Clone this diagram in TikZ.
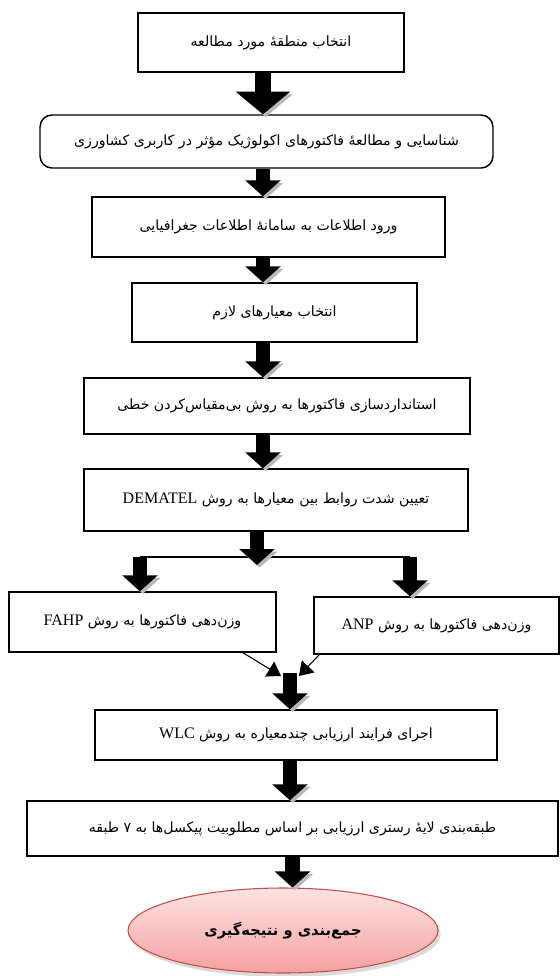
\documentclass[tikz,border=0pt]{standalone}
\usepackage{fontspec}
\usepackage{tikz}
\usetikzlibrary{arrows.meta,shapes.geometric,shadows}
\TeXXeTstate=1
\newfontfamily\fafont[Script=Arabic]{DejaVu Sans}
\newfontfamily\latfont{Liberation Serif}
\definecolor{shadowgray}{HTML}{B8B8B8}
\definecolor{ellTop}{HTML}{FDE3E3}
\definecolor{ellBot}{HTML}{F5A0A0}
\definecolor{ellEdge}{HTML}{C0504D}
\newcommand{\fatxt}[1]{\beginR #1\endR}
\newcommand{\lat}[1]{\beginL{\latfont\fontsize{12}{14}\selectfont #1}\endL}
\tikzset{
  stepbox/.style={draw=black, line width=1.1pt, inner sep=0pt, font=\fafont\fontsize{10.6}{13}\selectfont},
  flow/.style={line width=11pt, -{Triangle[width=26pt,length=12pt]},
    preaction={draw=shadowgray, transform canvas={shift={(2pt,-2pt)}}}},
  bigflow/.style={flow, line width=12.5pt, -{Triangle[width=40pt,length=17pt]}},
  link/.style={draw=black, line width=0.8pt},
  linktip/.style={link, -{Triangle[width=13pt,length=10pt]}},
}
\begin{document}
\begin{tikzpicture}[x=0.75pt,y=-0.75pt]
  \fill[white] (0,0) rectangle (560,976);
  \useasboundingbox (0,0) rectangle (560,976);
  % steps
  \node[stepbox, minimum width=199.5pt, minimum height=44.25pt] (b1) at (271,42.5)
    {\fatxt{انتخاب منطقهٔ مورد مطالعه}};
  \node[stepbox, rounded corners=9pt, minimum width=339.75pt, minimum height=39.75pt] (b2) at (266.5,141.5)
    {\fatxt{شناسایی و مطالعهٔ فاکتورهای اکولوژیک مؤثر در کاربری کشاورزی}};
  \node[stepbox, minimum width=264.75pt, minimum height=45pt] (b3) at (268.5,227)
    {\fatxt{ورود اطلاعات به سامانهٔ اطلاعات جغرافیایی}};
  \node[stepbox, minimum width=213.75pt, minimum height=44.25pt] (b4) at (274.5,312.5)
    {\fatxt{انتخاب معیارهای لازم}};
  \node[stepbox, minimum width=289.5pt, minimum height=42pt] (b5) at (277,406)
    {\fatxt{استانداردسازی فاکتورها به روش بی‌مقیاس‌کردن خطی}};
  \node[stepbox, minimum width=288pt, minimum height=46.5pt] (b6) at (276,500)
    {\fatxt{تعیین شدت روابط بین معیارها به روش \lat{DEMATEL}}};
  \node[stepbox, minimum width=200.25pt, minimum height=45pt] (fahp) at (142.5,622)
    {\fatxt{وزن‌دهی فاکتورها به روش \lat{FAHP}}};
  \node[stepbox, minimum width=183.75pt, minimum height=42.75pt] (anp) at (436.5,625.5)
    {\fatxt{وزن‌دهی فاکتورها به روش \lat{ANP}}};
  \node[stepbox, minimum width=301.5pt, minimum height=37.5pt] (wlc) at (296,735)
    {\fatxt{اجرای فرایند ارزیابی چندمعیاره به روش \lat{WLC}}};
  \node[stepbox, minimum width=398pt, minimum height=41.25pt] (b9) at (292.5,828.5)
    {\fatxt{طبقه‌بندی لایهٔ رستری ارزیابی بر اساس مطلوبیت پیکسل‌ها به ۷ طبقه}};
  \node[ellipse, draw=ellEdge, line width=0.8pt, top color=ellTop, bottom color=ellBot,
    drop shadow={shadow xshift=2pt, shadow yshift=-3pt, fill=shadowgray},
    minimum width=232.5pt, minimum height=63.75pt, inner sep=0pt,
    font=\fafont\bfseries\fontsize{11}{13}\selectfont] (ell) at (283,930.5)
    {\fatxt{جمع‌بندی و نتیجه‌گیری}};
  % connectors
  \coordinate (spine) at (263,0);
  \coordinate (split) at (257,565);
  \coordinate (bl) at (140,557);
  \coordinate (br) at (410,557);
  \coordinate (merge) at (290,673);
  \coordinate (mergeL) at (281,676);
  \coordinate (mergeR) at (299,676);
  \draw[bigflow] (b1.south -| spine) -- (b2.north -| spine);
  \foreach \A/\B in {b2/b3,b3/b4,b4/b5,b5/b6}
    \draw[flow] (\A.south -| spine) -- (\B.north -| spine);
  \draw[link] (bl) -- (br);
  \draw[flow] (b6.south -| split) -- (split);
  \draw[flow] (bl) -- (bl |- fahp.north);
  \draw[flow] (br) -- (br |- anp.north);
  \draw[linktip] (fahp.-17) -- (mergeL);
  \draw[linktip] (anp.194.6) -- (mergeR);
  \draw[flow] (merge) -- (merge |- wlc.north);
  \draw[flow] (wlc.south -| merge) -- (b9.north -| merge);
  \draw[flow] (b9.south) -- (b9.south |- ell.north);
\end{tikzpicture}
\end{document}
